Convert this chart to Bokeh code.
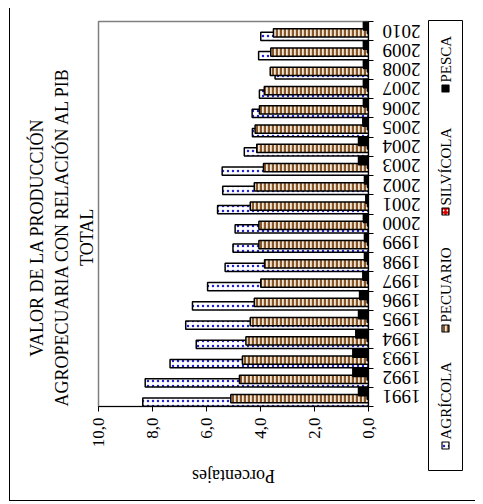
import math
from bokeh.plotting import figure
from bokeh.models import Range1d, LinearAxis, FixedTicker, Title, ColumnDataSource
from bokeh.layouts import row, column
from bokeh.embed import file_html
from bokeh.resources import INLINE
from bokeh.core.properties import value

years = [1991, 1992, 1993, 1994, 1995, 1996, 1997, 1998, 1999, 2000,
         2001, 2002, 2003, 2004, 2005, 2006, 2007, 2008, 2009, 2010]
agricola = [8.36, 8.27, 7.35, 6.38, 6.77, 6.52, 5.96, 5.31, 5.02, 4.94,
            5.59, 5.40, 5.42, 4.60, 4.30, 4.31, 4.04, 3.46, 4.07, 3.99]
pecuario = [5.10, 4.78, 4.67, 4.54, 4.38, 4.23, 3.99, 3.85, 4.06, 4.06,
            4.38, 4.23, 3.89, 4.14, 4.20, 4.04, 3.86, 3.64, 3.62, 3.52]
silvicola = [0.05, 0.05, 0.05, 0.05, 0.05, 0.05, 0.04, 0.04, 0.04, 0.04,
             0.04, 0.04, 0.04, 0.04, 0.04, 0.04, 0.04, 0.04, 0.04, 0.04]
pesca = [0.37, 0.58, 0.58, 0.47, 0.37, 0.33, 0.21, 0.15, 0.15, 0.19,
         0.10, 0.15, 0.37, 0.37, 0.21, 0.19, 0.19, 0.19, 0.19, 0.19]
series_names = ["AGRÍCOLA", "PECUARIO", "SILVÍCOLA", "PESCA"]
value_ticks = [0, 2, 4, 6, 8, 10]
title_lines = ["VALOR DE LA PRODUCCIÓN", "AGROPECUARIA CON RELACIÓN AL PIB", "TOTAL"]
axis_title = "Porcentajes"

FONT = "Liberation Serif"

styles = [
    dict(fill_color="white", hatch_pattern=".", hatch_color="#2020d0", hatch_scale=5, hatch_weight=1.8),
    dict(fill_color="#f3e8d4", hatch_pattern="|", hatch_color="#87552a", hatch_scale=4, hatch_weight=2.4),
    dict(fill_color="#e00000", hatch_pattern=".", hatch_color="white", hatch_scale=4, hatch_weight=1.5),
    dict(fill_color="black"),
]
series_vals = [agricola, pecuario, silvicola, pesca]

n = len(years)
pos = list(range(1, n + 1))
bounds = [i + 0.5 for i in range(0, n + 1)]


def no_align(fig):
    try:
        fig.frame_align = False
    except Exception:
        pass


def bare(fig):
    fig.xgrid.visible = False
    fig.ygrid.visible = False
    no_align(fig)


# layout sizes (pixels)
PW, PH = 371, 442          # main chart canvas
BT, BB, BL, BR = 13, 44, 88, 13   # borders around its frame
SW = 94                    # side strip (year labels + legend)
TOTAL_H = 492
FH = PH - BT - BB          # frame height
UNIT = FH / n              # pixels per category

# ---- main chart ----
p = figure(width=PW, height=PH, output_backend="svg", toolbar_location=None,
           x_range=Range1d(10, 0), y_range=Range1d(0.5, n + 0.5),
           min_border_left=BL, min_border_right=BR, min_border_top=BT, min_border_bottom=BB,
           x_axis_location=None, y_axis_location=None, title=None)
bare(p)
p.outline_line_color = "#808080"
p.outline_line_width = 1.5

step = 0.18
bar_h = 0.43
for i, (name, vals, st) in enumerate(zip(series_names, series_vals, styles)):
    off = (i - 1.5) * step
    src = ColumnDataSource(dict(y=[v + off for v in pos], right=vals, left=[0] * n))
    p.hbar(y="y", left="left", right="right", height=bar_h, source=src,
           line_color="black", line_width=1.5, **st)

xax = LinearAxis(ticker=FixedTicker(ticks=value_ticks),
                 major_label_overrides={t: f"{t:.1f}".replace(".", ",") for t in value_ticks},
                 major_label_orientation=math.pi / 2,
                 major_label_text_font=FONT, major_label_text_font_size="17px",
                 major_label_text_color="black",
                 major_tick_out=5, major_tick_in=0, minor_tick_out=0, minor_tick_in=0,
                 axis_line_color="black", major_tick_line_color="black",
                 major_label_standoff=6)
p.add_layout(xax, "below")

yax = LinearAxis(ticker=FixedTicker(ticks=[], minor_ticks=bounds),
                 major_tick_out=0, major_tick_in=0, minor_tick_out=5, minor_tick_in=0,
                 axis_line_color="black", minor_tick_line_color="black",
                 major_label_text_font_size="0px", major_label_standoff=0)
p.add_layout(yax, "right")

# title lines on the left, centred at the same height as in the reference
title_center_from_bottom = 170
title_widths = [240.5, 340.0, 59.0]   # rendered widths of the lines at 18px
for txt, w in reversed(list(zip(title_lines, title_widths))):
    p.add_layout(Title(text=txt, align="left", offset=title_center_from_bottom - w / 2,
                       text_font=FONT, text_font_size="18px", text_font_style="normal",
                       text_color="black", standoff=3), "left")

# ---- axis title strip under the chart ----
QH = TOTAL_H - PH
q = figure(width=PW, height=QH, output_backend="svg", toolbar_location=None,
           x_range=Range1d(0, PW), y_range=Range1d(0, QH), min_border=0,
           x_axis_location=None, y_axis_location=None, outline_line_color=None, title=None)
bare(q)
q.text(x=[BL + (PW - BL - BR) / 2], y=[QH - 25], text=[axis_title], angle=math.pi,
       text_align="center", text_baseline="middle", text_font=value(FONT),
       text_font_size="18px", text_color="black")

# ---- side strip: year labels and legend ----
yr_start = 0.5 - (TOTAL_H - BT - FH) / UNIT
yr_end = n + 0.5 + BT / UNIT
s = figure(width=SW, height=TOTAL_H, output_backend="svg", toolbar_location=None,
           x_range=Range1d(0, SW), y_range=Range1d(yr_start, yr_end), min_border=0,
           x_axis_location=None, y_axis_location=None, outline_line_color=None, title=None)
bare(s)
s.extra_y_ranges = {"px": Range1d(0, TOTAL_H)}
s.text(x=[20] * n, y=pos, text=[str(y) for y in years], angle=math.pi,
       text_align="center", text_baseline="middle", text_font=value(FONT),
       text_font_size="19px", text_color="black")

s.quad(left=[47], right=[81], bottom=[30], top=[480], fill_color=None,
       line_color="black", line_width=1, y_range_name="px")
icon_y = [55, 172, 289, 412]
for nm, iy, st in zip(series_names, icon_y, styles):
    s.rect(x=[64], y=[iy], width=7, height=7, line_color="black", line_width=1.2,
           y_range_name="px", **st)
    s.text(x=[64], y=[iy + 6], text=[nm], angle=math.pi / 2, text_align="left",
           text_baseline="middle", text_font=value(FONT), text_font_size="15px",
           text_color="black", y_range_name="px")

left_col = column(p, q, spacing=0)
layout = row(left_col, s, spacing=0)
layout.styles = {"border-left": "1px solid black", "border-bottom": "1px solid black",
                 "margin-left": "9px", "margin-top": "8px"}

open("out.html", "w").write(file_html(layout, INLINE))
